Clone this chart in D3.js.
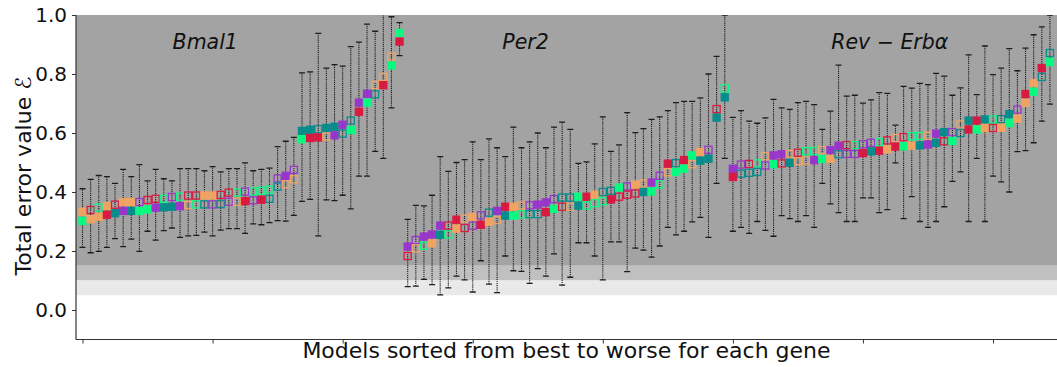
<!DOCTYPE html>
<html>
<head>
<meta charset="utf-8">
<script src="https://cdn.jsdelivr.net/npm/d3@7"></script>
<style>
  html, body { margin: 0; padding: 0; background: #ffffff; }
  svg { display: block; }
  text { font-family: "DejaVu Sans", sans-serif; fill: #111; }
</style>
</head>
<body>
<svg id="chart" width="1057" height="367"></svg>
<script>
// Gene names, one group of 40 ranked models each
const genes = ["Bmal1", "Per2", "Rev − Erbα"];

// Marker style codes: colour letter + f (filled) / o (open)
const palette = { R: "#dc143c", T: "#008b8b", P: "#9932cc", O: "#f4a460", G: "#00ff7f" };

// ---- Bmal1 ----
const bmal1Upper = [0.333,0.339,0.347,0.352,0.357,0.366,0.366,0.366,0.373,0.377,0.377,0.383,0.384,0.388,0.388,0.388,0.388,0.390,0.398,0.398,
                    0.401,0.402,0.404,0.408,0.446,0.455,0.475,0.607,0.611,0.613,0.617,0.621,0.628,0.642,0.703,0.733,0.763,0.790,0.859,0.939];
const bmal1UpperStyle = ["Of","Ro","Go","Of","Ro","Of","Of","Po","Ro","Ro","Go","Po","Go","Ro","Ro","Of","Of","Ro","Ro","Go",
                         "Po","Go","Go","Go","Po","Pf","Po","Tf","Tf","To","Tf","Tf","Pf","To","Pf","Pf","Oo","Oo","Oo","Gf"];
const bmal1Lower = [0.302,0.308,0.316,0.323,0.328,0.336,0.336,0.336,0.341,0.347,0.348,0.350,0.352,0.356,0.358,0.358,0.358,0.359,0.367,0.367,
                    0.369,0.372,0.374,0.377,0.418,0.426,0.443,0.579,0.583,0.585,0.588,0.592,0.598,0.610,0.672,0.703,0.731,0.762,0.829,0.910];
const bmal1LowerStyle = ["Gf","Of","Of","Rf","Tf","Pf","Tf","Gf","Gf","Pf","Tf","Tf","Pf","Oo","Go","To","Po","To","Po","Oo",
                         "Rf","Po","Rf","To","To","Oo","Oo","Gf","Rf","Rf","Oo","Pf","To","Gf","Rf","Gf","To","Rf","Gf","Rf"];
const bmal1ErrHigh = [0.411,0.443,0.456,0.452,0.429,0.477,0.452,0.493,0.438,0.477,0.445,0.438,0.479,0.479,0.479,0.472,0.486,0.468,0.479,0.479,
                      0.499,0.472,0.477,0.481,0.554,0.572,0.585,0.804,0.807,0.938,0.820,0.832,0.827,0.893,0.908,0.969,0.945,1.050,0.994,0.974];
const bmal1ErrLow = [0.212,0.194,0.199,0.212,0.242,0.215,0.240,0.199,0.267,0.237,0.269,0.278,0.246,0.251,0.253,0.264,0.251,0.271,0.276,0.276,
                     0.260,0.292,0.289,0.296,0.303,0.301,0.321,0.368,0.375,0.251,0.373,0.371,0.389,0.343,0.454,0.454,0.538,0.514,0.685,0.862];

// ---- Per2 ----
const per2Upper = [0.215,0.237,0.249,0.256,0.286,0.286,0.306,0.310,0.316,0.321,0.330,0.336,0.350,0.350,0.354,0.355,0.357,0.365,0.376,0.381,
                   0.381,0.384,0.384,0.391,0.400,0.404,0.415,0.419,0.425,0.429,0.432,0.455,0.496,0.498,0.508,0.524,0.536,0.543,0.681,0.751];
const per2UpperStyle = ["Pf","Po","Pf","Pf","Pf","Ro","Rf","Oo","Of","Po","To","Pf","Rf","Of","Oo","Po","Pf","Pf","Po","To",
                        "To","Gf","Rf","Of","To","To","Gf","Po","Of","Oo","Pf","Po","Rf","To","Rf","Gf","Of","Po","Ro","Go"];
const per2Lower = [0.183,0.209,0.218,0.226,0.255,0.256,0.276,0.278,0.286,0.289,0.299,0.305,0.320,0.320,0.324,0.325,0.325,0.332,0.343,0.350,
                   0.350,0.354,0.354,0.362,0.369,0.375,0.384,0.391,0.395,0.400,0.402,0.426,0.467,0.468,0.479,0.494,0.506,0.513,0.652,0.721];
const per2LowerStyle = ["Ro","Oo","Go","Of","Tf","Go","Of","Ro","Po","Rf","Of","Oo","Tf","Gf","Go","To","To","Rf","Gf","Ro",
                        "Oo","Tf","Go","Go","Go","Rf","Ro","Ro","Ro","Tf","Gf","Go","Oo","Gf","Gf","Oo","Tf","Tf","Tf","Tf"];
const per2ErrHigh = [0.307,0.355,0.353,0.389,0.520,0.470,0.500,0.510,0.570,0.510,0.580,0.550,0.520,0.620,0.550,0.570,0.600,0.550,0.620,0.637,
                     0.612,0.497,0.502,0.563,0.655,0.538,0.560,0.669,0.601,0.615,0.646,0.655,0.676,0.703,0.707,0.707,0.719,0.800,0.860,1.000];
const per2ErrLow = [0.079,0.081,0.104,0.086,0.051,0.075,0.115,0.102,0.061,0.167,0.088,0.059,0.183,0.133,0.131,0.090,0.140,0.115,0.190,0.084,
                    0.111,0.228,0.228,0.183,0.102,0.231,0.231,0.130,0.210,0.203,0.179,0.217,0.280,0.255,0.267,0.299,0.314,0.246,0.429,0.514];

// ---- Rev-Erbα ----
const revErbUpper = [0.479,0.493,0.495,0.497,0.521,0.524,0.528,0.529,0.533,0.538,0.539,0.542,0.542,0.557,0.559,0.559,0.562,0.567,0.569,0.575,
                     0.583,0.586,0.589,0.590,0.591,0.598,0.603,0.603,0.629,0.642,0.642,0.646,0.646,0.647,0.664,0.679,0.732,0.769,0.820,0.871];
const revErbUpperStyle = ["Pf","Po","Ro","Go","Oo","Pf","Pf","Oo","Ro","Go","Go","Oo","Pf","Pf","Ro","Go","Po","Po","Go","Ro",
                          "Oo","Ro","Go","Go","Oo","Pf","Tf","Po","Oo","Tf","Rf","Tf","Go","To","Tf","Po","Rf","Of","Rf","To"];
const revErbLower = [0.451,0.462,0.465,0.468,0.490,0.494,0.497,0.499,0.504,0.507,0.508,0.512,0.512,0.528,0.529,0.529,0.532,0.538,0.540,0.545,
                     0.554,0.555,0.557,0.558,0.561,0.567,0.572,0.573,0.600,0.612,0.612,0.617,0.617,0.618,0.634,0.649,0.702,0.740,0.790,0.841];
const revErbLowerStyle = ["Rf","To","To","To","Po","Gf","Ro","Tf","Oo","Oo","Pf","Gf","Of","To","Po","Po","Rf","Tf","Rf","Of",
                          "Rf","Gf","Of","Tf","Pf","Tf","Ro","Gf","To","Rf","Gf","Of","Ro","Of","Gf","Of","Of","Gf","To","Gf"];
const revErbErrHigh = [0.653,0.676,0.640,0.633,0.651,0.714,0.685,0.680,0.703,0.707,0.696,0.612,0.674,0.830,0.725,0.728,0.701,0.712,0.737,0.734,
                       0.627,0.758,0.752,0.768,0.764,0.802,0.793,0.728,0.753,0.865,0.730,0.895,0.798,0.820,0.886,0.811,0.888,0.933,0.960,1.000];
const revErbErrLow = [0.267,0.280,0.260,0.300,0.270,0.250,0.320,0.310,0.300,0.320,0.280,0.429,0.360,0.330,0.300,0.300,0.380,0.380,0.330,0.340,
                      0.499,0.310,0.384,0.300,0.280,0.300,0.350,0.436,0.468,0.300,0.514,0.300,0.454,0.434,0.400,0.537,0.540,0.567,0.640,0.698];

// Unlabelled x ticks (model index) and y tick values
const xTickValues = [0, 16, 32, 48, 64, 80, 96, 112];
const yTickValues = [0.0, 0.2, 0.4, 0.6, 0.8, 1.0];

// Shaded reference bands on the error axis
const bandEdges = [[0.15, 1.0, "#a3a3a3"], [0.10, 0.15, "#c0c0c0"], [0.05, 0.10, "#e9e9e9"]];

const groups = [
  { upper: bmal1Upper, upperStyle: bmal1UpperStyle, lower: bmal1Lower, lowerStyle: bmal1LowerStyle, hi: bmal1ErrHigh, lo: bmal1ErrLow },
  { upper: per2Upper, upperStyle: per2UpperStyle, lower: per2Lower, lowerStyle: per2LowerStyle, hi: per2ErrHigh, lo: per2ErrLow },
  { upper: revErbUpper, upperStyle: revErbUpperStyle, lower: revErbLower, lowerStyle: revErbLowerStyle, hi: revErbErrHigh, lo: revErbErrLow }
];
const perGene = 40;

// Flatten into rows with a running model index
const rows = [];
groups.forEach((g, gi) => {
  g.upper.forEach((_, j) => {
    rows.push({
      idx: gi * perGene + j,
      upper: g.upper[j], upperStyle: g.upperStyle[j],
      lower: g.lower[j], lowerStyle: g.lowerStyle[j],
      hi: g.hi[j], lo: g.lo[j]
    });
  });
});

const margin = { left: 76, right: 0, top: 15, bottom: 27.5 };
const W = 1057, H = 367;
const svg = d3.select("#chart");

const x = d3.scaleLinear().domain([-0.8, 119.87]).range([margin.left, W - margin.right]);
const y = d3.scaleLinear().domain([-0.1, 1.0]).range([H - margin.bottom, margin.top]);

svg.append("defs").append("clipPath").attr("id", "plotClip")
  .append("rect")
  .attr("x", margin.left).attr("y", margin.top)
  .attr("width", W - margin.left - margin.right)
  .attr("height", H - margin.top - margin.bottom);

const plot = svg.append("g").attr("clip-path", "url(#plotClip)");

// Background bands
plot.selectAll("rect.band").data(bandEdges).join("rect")
  .attr("class", "band")
  .attr("x", margin.left)
  .attr("width", W - margin.left - margin.right)
  .attr("y", d => y(d[1]))
  .attr("height", d => y(d[0]) - y(d[1]))
  .attr("fill", d => d[2]);

// Error bars
const capHalf = 3;
const bars = plot.append("g").selectAll("g").data(rows).join("g");
bars.append("line")
  .attr("x1", d => x(d.idx)).attr("x2", d => x(d.idx))
  .attr("y1", d => y(d.lo)).attr("y2", d => y(d.hi))
  .attr("stroke", "#1c1c1c").attr("stroke-width", 1.1)
  .attr("stroke-dasharray", "1.2 0.9");
bars.append("line")
  .attr("x1", d => x(d.idx) - capHalf).attr("x2", d => x(d.idx) + capHalf)
  .attr("y1", d => y(d.hi)).attr("y2", d => y(d.hi))
  .attr("stroke", "#1c1c1c").attr("stroke-width", 1.3);
bars.append("line")
  .attr("x1", d => x(d.idx) - capHalf).attr("x2", d => x(d.idx) + capHalf)
  .attr("y1", d => y(d.lo)).attr("y2", d => y(d.lo))
  .attr("stroke", "#1c1c1c").attr("stroke-width", 1.3);

// Square markers: filled or open, two per model
const markers = [];
rows.forEach(r => {
  markers.push({ idx: r.idx, v: r.upper, s: r.upperStyle });
  markers.push({ idx: r.idx, v: r.lower, s: r.lowerStyle });
});
const side = 8.4;
plot.append("g").selectAll("rect").data(markers).join("rect")
  .attr("x", d => x(d.idx) - (d.s[1] === "f" ? side / 2 : side / 2 - 0.65))
  .attr("y", d => y(d.v) - (d.s[1] === "f" ? side / 2 : side / 2 - 0.65))
  .attr("width", d => d.s[1] === "f" ? side : side - 1.3)
  .attr("height", d => d.s[1] === "f" ? side : side - 1.3)
  .attr("fill", d => d.s[1] === "f" ? palette[d.s[0]] : "none")
  .attr("stroke", d => d.s[1] === "f" ? "none" : palette[d.s[0]])
  .attr("stroke-width", 1.3)
  .attr("opacity", 0.95);

// Gene labels
const labelIdx = [15.1, 54.5, 99.3];
svg.selectAll("text.gene").data(genes).join("text")
  .attr("class", "gene")
  .attr("x", (d, i) => x(labelIdx[i]))
  .attr("y", 49)
  .attr("text-anchor", "middle")
  .attr("font-size", 20.5)
  .attr("font-style", "italic")
  .text(d => d);

// Axes
const yAxis = d3.axisLeft(y).tickValues(yTickValues).tickFormat(d3.format(".1f")).tickSize(4).tickPadding(5);
const gy = svg.append("g").attr("transform", `translate(${margin.left},0)`).call(yAxis);
gy.select(".domain").attr("d", `M0,${margin.top}V${H - margin.bottom}`).attr("stroke", "#333").attr("stroke-width", 1.2);
gy.selectAll(".tick line").attr("stroke", "#333");
gy.selectAll(".tick text").attr("font-size", 20).attr("font-family", "DejaVu Sans, sans-serif").attr("fill", "#111");

const xAxis = d3.axisBottom(x).tickValues(xTickValues).tickFormat("").tickSize(4);
const gx = svg.append("g").attr("transform", `translate(0,${H - margin.bottom})`).call(xAxis);
gx.select(".domain").attr("d", `M${margin.left},0H${W}`).attr("stroke", "#333").attr("stroke-width", 1.2);
gx.selectAll(".tick line").attr("stroke", "#333");

// Axis titles
svg.append("text")
  .attr("x", (margin.left + W) / 2)
  .attr("y", 358)
  .attr("text-anchor", "middle")
  .attr("font-size", 22)
  .text("Models sorted from best to worse for each gene");

svg.append("text")
  .attr("transform", "translate(31,176) rotate(-90)")
  .attr("text-anchor", "middle")
  .attr("font-size", 22)
  .text("Total error value ℰ");
</script>
</body>
</html>
